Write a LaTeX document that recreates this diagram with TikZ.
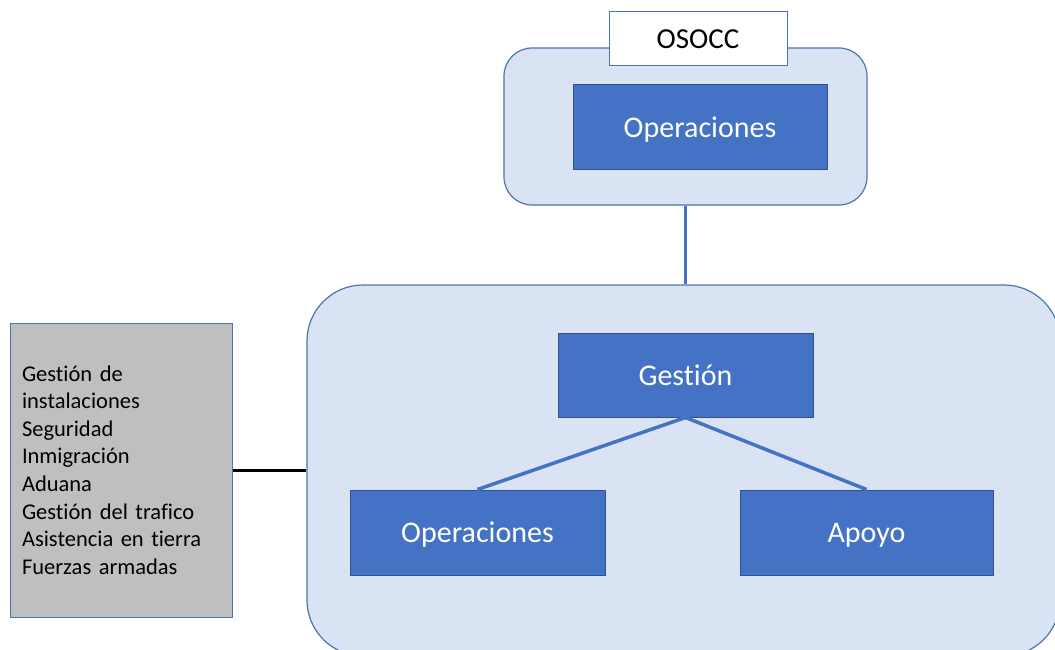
\documentclass[tikz,border=0pt]{standalone}
\usepackage{fontspec}
\setmainfont{Carlito}[Ligatures=NoCommon]
\usepackage{tikz}

\definecolor{lightfill}{HTML}{DAE3F3}
\definecolor{officeblue}{HTML}{4472C4}
\definecolor{darkline}{HTML}{2F528F}
\definecolor{frameline}{HTML}{4F72B0}
\definecolor{greyfill}{HTML}{BFBFBF}

\tikzset{
	container/.style={draw=frameline, fill=lightfill, line width=1.2pt, rounded corners=#1},
	bluebox/.style={draw=darkline, fill=officeblue, line width=1pt, text=white,
		font=\fontsize{30}{36}\selectfont, inner sep=0pt, text depth=0pt},
	titlebox/.style={draw=frameline, fill=white, line width=1pt,
		font=\fontsize{29}{35}\selectfont, inner sep=0pt, text depth=0pt},
	sidebox/.style={draw=frameline, fill=greyfill, line width=1pt, align=left,
		font=\fontsize{22.5}{27.6}\selectfont, inner xsep=12pt, text width=198pt},
	link/.style={draw=officeblue, line width=3.5pt}
}

\begin{document}
\begin{tikzpicture}[x=1pt,y=-1pt]
	\useasboundingbox (0,0) rectangle (1055,650);
	\clip (0,0) rectangle (1055,650);
	% top block
	\node (top) [container=28pt, minimum width=363pt, minimum height=157pt] at (685.5,126.5) {};
	\node (osocc) [titlebox, minimum width=178pt, minimum height=54pt] at (698,39) {OSOCC};
	\node (opstop) [bluebox, minimum width=254pt, minimum height=85pt] at (700,127.5) {Operaciones};
	% lower block
	\node (big) [container=56pt, minimum width=753pt, minimum height=371pt] at (683.5,470.5) {};
	\node (gestion) [bluebox, minimum width=255pt, minimum height=84pt] at (685.5,375) {Gestión};
	\node (opsbot) [bluebox, minimum width=255pt, minimum height=85pt] at (477.5,532.5) {Operaciones};
	\node (apoyo) [bluebox, minimum width=253pt, minimum height=85pt] at (866.5,532.5) {Apoyo};
	% side list
	\node (side) [sidebox, minimum height=294pt] at (121,470) {Gestión de\\instalaciones\\Seguridad\\Inmigración\\Aduana\\Gestión del trafico\\Asistencia en tierra\\Fuerzas armadas};
	% connectors
	\draw[link] (top.south) -- (top.south |- big.north);
	\draw[link] (gestion.south) -- (opsbot.north);
	\draw[link] (gestion.south) -- (apoyo.north);
	\draw[line width=3pt] (side.east) -- (side.east -| big.west);
\end{tikzpicture}
\end{document}
